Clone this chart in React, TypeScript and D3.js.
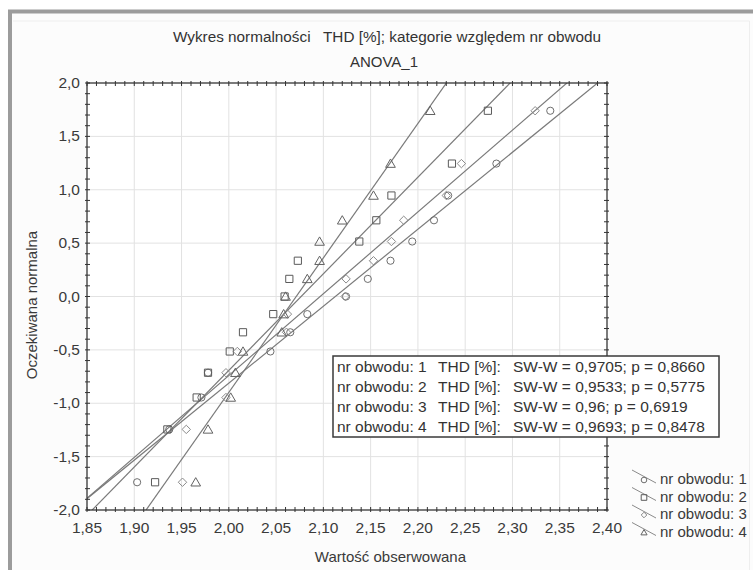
import React from 'react';
import * as d3 from 'd3';

const W = 753;
const H = 570;

// Expected normal values (n = 15)
const expectedNormal = [-1.74, -1.245, -0.946, -0.714, -0.515, -0.335, -0.165, 0, 0.165, 0.335, 0.515, 0.714, 0.946, 1.245, 1.74];

// Observed THD [%] values, sorted, per circuit
const obwod1 = [1.903, 1.937, 1.971, 1.978, 2.044, 2.065, 2.083, 2.124, 2.147, 2.171, 2.194, 2.217, 2.232, 2.283, 2.340];
const obwod2 = [1.922, 1.935, 1.966, 1.978, 2.001, 2.015, 2.047, 2.059, 2.064, 2.073, 2.138, 2.156, 2.172, 2.236, 2.274];
const obwod3 = [1.951, 1.955, 1.997, 1.997, 2.009, 2.061, 2.062, 2.123, 2.124, 2.153, 2.172, 2.185, 2.230, 2.246, 2.324];
const obwod4 = [1.965, 1.978, 2.002, 2.007, 2.015, 2.056, 2.058, 2.060, 2.083, 2.096, 2.096, 2.120, 2.153, 2.171, 2.213];

// Fitted normal lines (mean, sd) per circuit
const fitMean = [2.1126, 2.0765, 2.0966, 2.0713];
const fitSd = [0.1387, 0.1105, 0.1305, 0.0794];

const seriesNames = ['nr obwodu: 1', 'nr obwodu: 2', 'nr obwodu: 3', 'nr obwodu: 4'];
const swStats = ['SW-W = 0,9705; p = 0,8660', 'SW-W = 0,9533; p = 0,5775', 'SW-W = 0,96; p = 0,6919', 'SW-W = 0,9693; p = 0,8478'];
const varName = 'THD [%]:';

const xTickValues = [1.85, 1.9, 1.95, 2.0, 2.05, 2.1, 2.15, 2.2, 2.25, 2.3, 2.35, 2.4];
const xTickLabels = ['1,85', '1,90', '1,95', '2,00', '2,05', '2,10', '2,15', '2,20', '2,25', '2,30', '2,35', '2,40'];
const yTickValues = [-2, -1.5, -1, -0.5, 0, 0.5, 1, 1.5, 2];
const yTickLabels = ['-2,0', '-1,5', '-1,0', '-0,5', '0,0', '0,5', '1,0', '1,5', '2,0'];

const title1 = 'Wykres normalności   THD [%]; kategorie względem nr obwodu';
const title2 = 'ANOVA_1';
const xTitle = 'Wartość obserwowana';
const yTitle = 'Oczekiwana normalna';

const FONT = '"Liberation Sans", Arial, sans-serif';

const symbolColors = ['#6e6e6e', '#5a5a5a', '#8a8a8a', '#626262'];

function marker(kind: number, s: number): string {
  // s = half size
  if (kind === 0) return d3.symbol(d3.symbolCircle, Math.PI * s * s)() || '';
  if (kind === 1) return `M${-s},${-s}H${s}V${s}H${-s}Z`;
  if (kind === 2) return `M0,${-s}L${s},0L0,${s}L${-s},0Z`;
  return `M0,${-s * 1.05}L${s * 1.1},${s * 0.85}L${-s * 1.1},${s * 0.85}Z`;
}
const markerSize = [3.6, 3.6, 4.2, 4.4];

export default function App() {
  const left = 87, right = 607, top = 83, bottom = 510;
  const x = d3.scaleLinear().domain([1.85, 2.4]).range([left, right]);
  const y = d3.scaleLinear().domain([-2, 2]).range([bottom, top]);

  const data = [obwod1, obwod2, obwod3, obwod4];

  const xMinor = d3.range(0, 56).map((i) => 1.85 + i * 0.01);
  const yMinor = d3.range(0, 41).map((i) => -2 + i * 0.1);

  const lineGen = d3.line<[number, number]>().x((d) => x(d[0])).y((d) => y(d[1]));

  const legendCenters = [479, 496.5, 514, 531.5];
  const boxLines = [367, 387, 407, 426.5];

  return (
    <svg width={W} height={H} style={{ position: 'absolute', left: 0, top: 0, background: '#fff' }} fontFamily={FONT}>
      <defs>
        <clipPath id="plotClip">
          <rect x={left} y={top} width={right - left} height={bottom - top} />
        </clipPath>
      </defs>
      <rect x={0} y={0} width={W} height={H} fill="#ffffff" />
      <rect x={12} y={13} width={W - 12} height={H - 13} fill="#fcfcfc" />
      {/* outer frame */}
      <path d={`M10,${H} L10,11.5 L${W},11.5`} fill="none" stroke="#9c9c9c" strokeWidth={4} />
      <path d={`M13,21 L749.5,21 L749.5,${H}`} fill="none" stroke="#eeeeee" strokeWidth={1} />

      {/* titles */}
      <text x={387} y={42} textAnchor="middle" fontSize={15.3} fill="#333" style={{ whiteSpace: 'pre' }}>{title1}</text>
      <text x={384} y={67} textAnchor="middle" fontSize={15} fill="#333">{title2}</text>

      {/* plot background */}
      <rect x={left} y={top} width={right - left} height={bottom - top} fill="#ffffff" />

      {/* grid */}
      {xTickValues.map((v, i) => (
        <line key={'gx' + i} x1={x(v)} x2={x(v)} y1={top} y2={bottom} stroke="#e2e2e2" strokeWidth={1} />
      ))}
      {yTickValues.map((v, i) => (
        <line key={'gy' + i} x1={left} x2={right} y1={y(v)} y2={y(v)} stroke="#e2e2e2" strokeWidth={1} />
      ))}

      {/* fitted lines */}
      <g clipPath="url(#plotClip)">
        {fitMean.map((m, i) => {
          const pts: [number, number][] = [
            [m - 2.6 * fitSd[i], -2.6],
            [m + 2.6 * fitSd[i], 2.6],
          ];
          return <path key={'l' + i} d={lineGen(pts) || ''} fill="none" stroke="#7a7a7a" strokeWidth={1.2} />;
        })}
      </g>

      {/* points */}
      <g>
        {data.map((s, si) =>
          s.map((v, i) => (
            <path
              key={'p' + si + '-' + i}
              d={marker(si, markerSize[si])}
              transform={`translate(${x(v)},${y(expectedNormal[i])})`}
              fill="none"
              stroke={symbolColors[si]}
              strokeWidth={1}
            />
          ))
        )}
      </g>

      {/* axes frame */}
      <rect x={left} y={top} width={right - left} height={bottom - top} fill="none" stroke="#2e2e2e" strokeWidth={1.2} />

      {/* minor ticks */}
      {xMinor.map((v, i) => (
        <g key={'mx' + i}>
          <line x1={x(v)} x2={x(v)} y1={top - 2} y2={top + 3} stroke="#333" strokeWidth={1} />
          <line x1={x(v)} x2={x(v)} y1={bottom - 3} y2={bottom + 2} stroke="#333" strokeWidth={1} />
        </g>
      ))}
      {yMinor.map((v, i) => (
        <g key={'my' + i}>
          <line x1={left - 2} x2={left + 3} y1={y(v)} y2={y(v)} stroke="#333" strokeWidth={1} />
          <line x1={right - 3} x2={right + 2} y1={y(v)} y2={y(v)} stroke="#333" strokeWidth={1} />
        </g>
      ))}

      {/* tick labels */}
      {xTickValues.map((v, i) => (
        <text key={'xl' + i} x={x(v)} y={533} textAnchor="middle" fontSize={15.5} fill="#3a3a3a">{xTickLabels[i]}</text>
      ))}
      {yTickValues.map((v, i) => (
        <text key={'yl' + i} x={80} y={y(v) + 5} textAnchor="end" fontSize={15.5} fill="#3a3a3a">{yTickLabels[i]}</text>
      ))}

      {/* axis titles */}
      <text x={466} y={562} textAnchor="end" fontSize={15} fill="#3a3a3a">{xTitle}</text>
      <text transform={`translate(37,305) rotate(-90)`} textAnchor="middle" fontSize={15} fill="#3a3a3a">{yTitle}</text>

      {/* stats box */}
      <rect x={333} y={356} width={386} height={81} fill="#ffffff" stroke="#3a3a3a" strokeWidth={1.5} />
      {boxLines.map((cy, i) => (
        <text key={'bl' + i} y={cy + 5} fontSize={15.5} fill="#333">
          <tspan x={337}>{seriesNames[i]}</tspan>
          <tspan x={438}>{varName}</tspan>
          <tspan x={513}>{swStats[i]}</tspan>
        </text>
      ))}

      {/* legend */}
      {legendCenters.map((cy, i) => (
        <g key={'lg' + i}>
          <line x1={632} y1={cy - 9} x2={656} y2={cy + 4} stroke="#8a8a8a" strokeWidth={1} />
          <path
            d={marker(i, 2.8)}
            transform={`translate(644,${cy + 1})`}
            fill="none"
            stroke={symbolColors[i]}
            strokeWidth={1}
          />
          <text x={660} y={cy + 5} fontSize={15} fill="#3a3a3a">{seriesNames[i]}</text>
        </g>
      ))}
    </svg>
  );
}
